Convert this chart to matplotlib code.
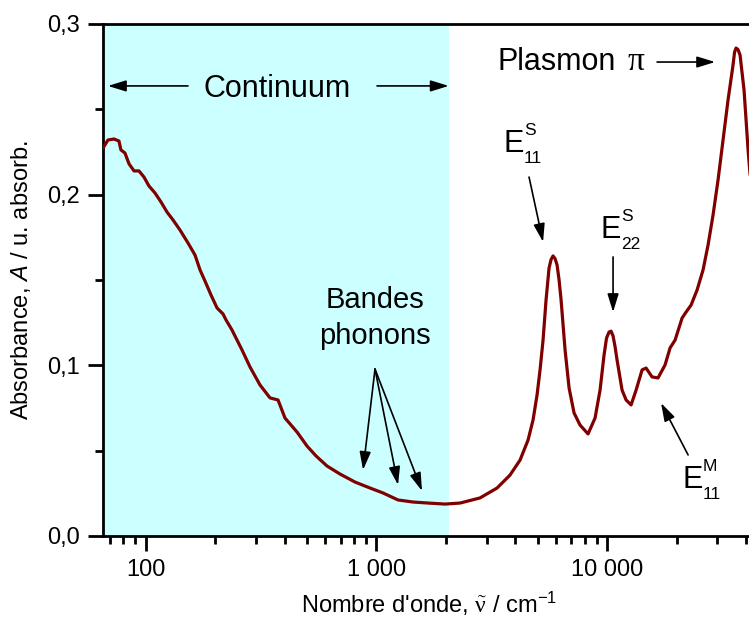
import matplotlib
matplotlib.use("Agg")
import matplotlib.pyplot as plt
from matplotlib.ticker import FixedLocator, FixedFormatter, LogLocator, NullFormatter, MultipleLocator

# spectrum (wavenumber in cm-1, absorbance)
wavenumber = [65.3, 68.6, 72.9, 76.6, 78.1, 81.3, 84.7, 89.0, 93.5, 98.3,
              103.3, 109.7, 116.5, 123.7, 131.3, 140.8, 152.5, 163.6, 172.0, 180.7,
              191.9, 203.8, 216.3, 222.9, 236.6, 261.5, 283.3, 312.9, 345.8, 374.6,
              401.6, 452.9, 500.3, 547.3, 610.8, 695.3, 807.8, 938.3, 1068, 1241,
              1441, 1674, 1983, 2304, 2812, 3333, 3794, 4194, 4541, 4774,
              4968, 5119, 5275, 5435, 5600, 5714, 5829, 5947, 6066, 6189, 6314, 6571, 6839,
              7187, 7630, 8264, 8862, 9317, 9696, 9940, 10191, 10400, 10607, 10820, 11040, 11604,
              12080, 12698, 13350, 14170, 14747, 15652, 16613, 17821, 18738, 19700,
              21124, 21983, 23107, 24530, 26042, 27375, 28774, 30245, 31791, 33419,
              35129, 35660, 36196, 36920, 37670, 39200, 40812, 42480]
absorbance = [0.2273, 0.2320, 0.2326, 0.2314, 0.2262, 0.2244, 0.2180, 0.2139, 0.2139, 0.2103,
              0.2051, 0.2010, 0.1957, 0.1898, 0.1852, 0.1793, 0.1717, 0.1646, 0.1559, 0.1494,
              0.1412, 0.1336, 0.1301, 0.1266, 0.1207, 0.1090, 0.0990, 0.0885, 0.0809, 0.0797,
              0.0691, 0.0609, 0.0527, 0.0469, 0.0410, 0.0363, 0.0316, 0.0281, 0.0252, 0.0211,
              0.0199, 0.0193, 0.0187, 0.0193, 0.0223, 0.0281, 0.0357, 0.0445, 0.0562, 0.0680,
              0.0826, 0.0973, 0.1148, 0.1383, 0.1570, 0.1620, 0.1641, 0.1625, 0.1588, 0.1500, 0.1383, 0.1090, 0.0867,
              0.0721, 0.0650, 0.0598, 0.0691, 0.0855, 0.1061, 0.1160, 0.1195, 0.1200, 0.1172, 0.1110, 0.1031, 0.0855,
              0.0797, 0.0768, 0.0855, 0.0973, 0.0984, 0.0932, 0.0926, 0.1002, 0.1102, 0.1148,
              0.1277, 0.1312, 0.1353, 0.1441, 0.1559, 0.1705, 0.1881, 0.2086, 0.2320, 0.2555,
              0.2760, 0.2835, 0.2859, 0.2850, 0.2818, 0.2613, 0.2262, 0.1969]

continuum_end = 2057
x_ticks = [100, 1000, 10000]
x_tick_labels = ["100", "1 000", "10 000"]
y_ticks = [0.0, 0.1, 0.2, 0.3]
y_tick_labels = ["0,0", "0,1", "0,2", "0,3"]

# phonon band arrows: start point and the three tips
phonon_from = (986, 0.0978)
phonon_tips = [(875, 0.0387), (1241, 0.0299), (1576, 0.0264)]

plt.rcParams["font.family"] = ["Liberation Sans", "DejaVu Sans"]
plt.rcParams["mathtext.fontset"] = "custom"
plt.rcParams["mathtext.rm"] = "Liberation Serif"
plt.rcParams["mathtext.it"] = "Liberation Sans:italic"
plt.rcParams["mathtext.sf"] = "Liberation Sans"

fig = plt.figure(figsize=(7.49, 6.21), dpi=100)
ax = fig.add_axes([0.1375, 0.1369, 0.8879, 0.8245])

ax.axvspan(10, continuum_end, color="#ccffff", lw=0, zorder=0)
ax.plot(wavenumber, absorbance, color="#800000", lw=2.3, zorder=3)

ax.set_xscale("log")
ax.set_xlim(65.3, 49800)
ax.set_ylim(0, 0.3)

ax.xaxis.set_major_locator(FixedLocator(x_ticks))
ax.xaxis.set_major_formatter(FixedFormatter(x_tick_labels))
ax.xaxis.set_minor_locator(LogLocator(base=10, subs=range(2, 10)))
ax.xaxis.set_minor_formatter(NullFormatter())
ax.yaxis.set_major_locator(FixedLocator(y_ticks))
ax.yaxis.set_major_formatter(FixedFormatter(y_tick_labels))
ax.yaxis.set_minor_locator(MultipleLocator(0.05))

ax.tick_params(which="major", length=10.5, width=2, labelsize=17, pad=6)
ax.tick_params(which="minor", length=5.5, width=2)
for s in ["left", "bottom", "top"]:
    ax.spines[s].set_linewidth(2)
ax.spines["right"].set_visible(False)

ax.set_xlabel(r"Nombre d'onde, $\tilde{\mathrm{\nu}}$ / cm$^{\mathsf{-1}}$", fontsize=17)
ax.set_ylabel(r"Absorbance, $\mathit{A}$ / u. absorb.", fontsize=17)
ax.xaxis.set_label_coords(0.49, -0.106)
ax.yaxis.set_label_coords(-0.105, 0.5)

arrow = dict(arrowstyle="-|>,head_length=0.55,head_width=0.17", color="black",
             lw=1.2, shrinkA=0, shrinkB=0, mutation_scale=20)

# Continuum
ax.text(372.7, 0.2574, "Continuum", fontsize=22, ha="center", va="baseline")
ax.annotate("", xy=(68.6, 0.2637), xytext=(152.5, 0.2637), arrowprops=arrow)
ax.annotate("", xy=(2057, 0.2637), xytext=(1006, 0.2637), arrowprops=arrow)

# Plasmon pi
ax.text(3333, 0.2730, "Plasmon", fontsize=22, ha="left", va="baseline")
ax.text(12300, 0.2730, "π", fontsize=24, ha="left", va="baseline", family="Liberation Serif")
ax.annotate("", xy=(29370, 0.2777), xytext=(16456, 0.2777), arrowprops=arrow)

# Bandes phonons
ax.text(986, 0.1336, "Bandes", fontsize=21, ha="center", va="baseline")
ax.text(986, 0.1125, "phonons", fontsize=21, ha="center", va="baseline")
for tip in phonon_tips:
    ax.annotate("", xy=tip, xytext=phonon_from, arrowprops=arrow)


def e_label(x, y, sup, sub):
    ax.text(x, y, "E", fontsize=22, ha="left", va="baseline")
    ax.annotate(sup, (x, y), xytext=(15, 12), textcoords="offset points",
                fontsize=12.5, ha="left", va="baseline")
    ax.annotate(sub, (x, y), xytext=(15, -8), textcoords="offset points",
                fontsize=12.5, ha="left", va="baseline")


e_label(3539, 0.2250, "S", "11")
ax.annotate("", xy=(5275, 0.1723), xytext=(4586, 0.2103), arrowprops=arrow)
e_label(9317, 0.1746, "S", "22")
ax.annotate("", xy=(10607, 0.1312), xytext=(10607, 0.1635), arrowprops=arrow)
e_label(21124, 0.0281, "M", "11")
ax.annotate("", xy=(17125, 0.0779), xytext=(22431, 0.0475), arrowprops=arrow)

fig.savefig("out.png", dpi=100)
